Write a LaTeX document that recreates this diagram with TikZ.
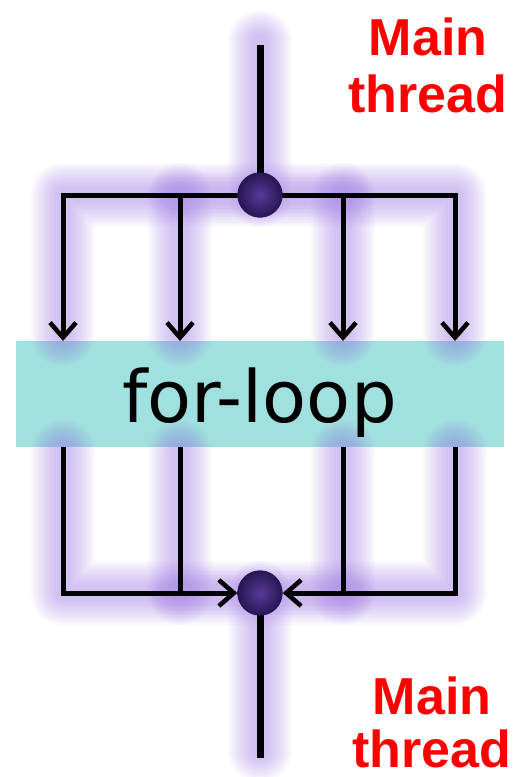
\documentclass[tikz,border=0pt]{standalone}
\usepackage{fontspec}
\setmainfont{Liberation Sans}
\newfontfamily\loopfont{DejaVu Sans}
\usetikzlibrary{arrows.meta}
\definecolor{glowc}{RGB}{152,114,224}
\definecolor{boxc}{RGB}{160,224,222}
\definecolor{jointin}{RGB}{88,58,152}
\definecolor{jointout}{RGB}{38,22,82}
\definecolor{labelred}{RGB}{255,0,0}
\tikzset{
  glowlayer/.style={draw=glowc, line width=#1, line cap=round, line join=round, opacity=0.042},
  wire/.style={draw=black, line width=5pt},
  stem/.style={draw=black, line width=7pt},
  tip/.style={-{Straight Barb[length=15pt,width=26pt,line width=4.5pt]}},
  joint/.style={circle, minimum size=45pt, inner sep=0pt, inner color=jointin, outer color=jointout},
  looplabel/.style={font=\loopfont\fontsize{72}{74}\selectfont, anchor=base, inner sep=0pt},
  threadlabel/.style={font=\bfseries\fontsize{52}{57}\selectfont, text=labelred, anchor=base, inner sep=0pt}
}
\newcommand{\glowpaths}[1]{%
  \path[glowlayer=#1] (260,42) -- (260,195);
  \path[glowlayer=#1] (63,334) -- (63,195) -- (455,195) -- (455,334);
  \path[glowlayer=#1] (180,195) -- (180,334);
  \path[glowlayer=#1] (343,195) -- (343,334);
  \path[glowlayer=#1] (63,452) -- (63,593) -- (455,593) -- (455,452);
  \path[glowlayer=#1] (180,452) -- (180,593);
  \path[glowlayer=#1] (343,452) -- (343,593);
  \path[glowlayer=#1] (260,593) -- (260,750);
}
\begin{document}
\begin{tikzpicture}[x=1pt,y=-1pt]
  \useasboundingbox (0,0) rectangle (515,777);

  % the parallel region
  \node[fill=boxc, minimum width=488pt, minimum height=106pt, inner sep=0pt] (loop) at (259.5,394) {};

  % soft halo behind the threads
  \foreach \w in {64,60,...,16} {\glowpaths{\w pt}}
  \foreach \w in {44,36,28} {
    \path[glowlayer=\w pt] (170,195) -- (350,195);
    \path[glowlayer=\w pt] (170,593) -- (350,593);
  }

  % fork and join points
  \node[joint] (ct) at (260,195) {};
  \node[joint] (cb) at (260,593) {};

  % thread ends
  \coordinate (start) at (260,45);
  \coordinate (finish) at (260,758);
  \coordinate (t1) at (63,341);
  \coordinate (t2) at (180,341);
  \coordinate (t3) at (343,341);
  \coordinate (t4) at (455,341);
  \coordinate (b1) at (63,447);
  \coordinate (b2) at (180,447);
  \coordinate (b3) at (343,447);
  \coordinate (b4) at (455,447);

  % main thread in and out
  \draw[stem] (start) -- (ct.center);
  \draw[stem] (cb.center) -- (finish);

  % fork
  \draw[wire, tip] (ct.center) -| (t1);
  \draw[wire, tip] (ct.center) -| (t2);
  \draw[wire, tip] (ct.center) -| (t3);
  \draw[wire, tip] (ct.center) -| (t4);

  % join
  \draw[wire, tip] (b1) |- (cb.west);
  \draw[wire, tip] (b4) |- (cb.east);
  \draw[wire] (b2) -- (b2 |- cb);
  \draw[wire] (b3) -- (b3 |- cb);

  % redraw the joints over the wires
  \node[joint] at (ct) {};
  \node[joint] at (cb) {};

  \node[looplabel] (looptext) at (259.5,422) {for-loop};

  \node[threadlabel] (mainA) at (428,55) {Main};
  \node[threadlabel] (threadA) at (428,112) {thread};
  \node[threadlabel] (mainB) at (432,714) {Main};
  \node[threadlabel] (threadB) at (432,767) {thread};
\end{tikzpicture}
\end{document}
